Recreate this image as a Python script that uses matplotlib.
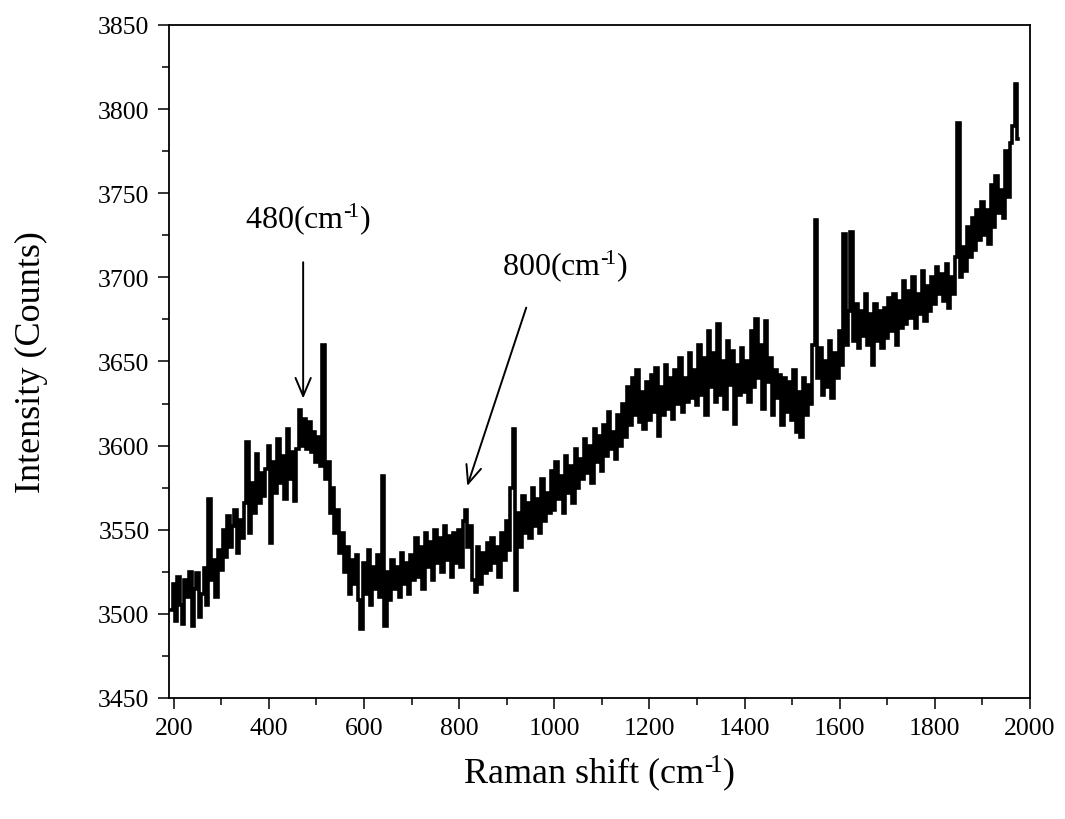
import numpy as np
import matplotlib
matplotlib.use("Agg")
import matplotlib.pyplot as plt
from matplotlib.ticker import MultipleLocator

plt.rcParams['font.family'] = ['Liberation Serif', 'DejaVu Serif']
plt.rcParams['mathtext.fontset'] = 'custom'
plt.rcParams['mathtext.rm'] = 'Liberation Serif'
plt.rcParams['mathtext.it'] = 'Liberation Serif:italic'

# Intensity values (Counts), every 5 cm^-1 from 195 cm^-1
intensity = [
    # 195 - 290
    3502, 3518, 3496, 3522, 3505, 3494, 3520, 3510, 3525, 3493, 3515, 3524, 3498, 3512, 3527, 3505, 3568, 3520, 3532, 3510,
    # 295 - 390
    3538, 3526, 3550, 3534, 3558, 3540, 3552, 3562, 3536, 3556, 3545, 3566, 3602, 3548, 3578, 3560, 3595, 3566, 3584, 3570,
    # 395 - 490
    3586, 3600, 3542, 3590, 3572, 3604, 3578, 3594, 3568, 3610, 3580, 3596, 3567, 3598, 3621, 3600, 3616, 3598, 3614, 3596,
    # 495 - 590
    3608, 3590, 3605, 3588, 3660, 3580, 3590, 3560, 3575, 3548, 3562, 3536, 3548, 3525, 3540, 3512, 3532, 3518, 3535, 3508,
    # 595 - 690
    3491, 3530, 3512, 3538, 3505, 3528, 3515, 3535, 3510, 3582, 3493, 3525, 3508, 3532, 3515, 3528, 3510, 3536, 3518, 3530,
    # 695 - 790
    3512, 3535, 3520, 3545, 3522, 3540, 3515, 3548, 3528, 3543, 3520, 3550, 3530, 3545, 3525, 3552, 3532, 3546, 3522, 3548,
    # 795 - 890
    3530, 3550, 3528, 3555, 3562, 3540, 3552, 3520, 3513, 3540, 3518, 3536, 3524, 3542, 3526, 3545, 3530, 3540, 3522, 3548,
    # 895 - 990
    3532, 3555, 3538, 3575, 3610, 3514, 3560, 3540, 3570, 3548, 3566, 3545, 3575, 3552, 3568, 3548, 3580, 3555, 3572, 3560,
    # 995 - 1090
    3585, 3562, 3590, 3568, 3582, 3560, 3594, 3572, 3588, 3566, 3598, 3575, 3592, 3580, 3604, 3584, 3600, 3578, 3610, 3590,
    # 1095 - 1190
    3606, 3585, 3612, 3594, 3620, 3598, 3608, 3592, 3618, 3600, 3625, 3605, 3635, 3612, 3640, 3618, 3645, 3614, 3632, 3610,
    # 1195 - 1290
    3638, 3615, 3642, 3620, 3646, 3606, 3635, 3618, 3648, 3622, 3640, 3616, 3645, 3625, 3652, 3620, 3640, 3626, 3655, 3628,
    # 1295 - 1390
    3645, 3624, 3660, 3630, 3652, 3618, 3668, 3635, 3655, 3626, 3672, 3630, 3650, 3622, 3662, 3636, 3656, 3613, 3648, 3630,
    # 1395 - 1490
    3658, 3632, 3650, 3626, 3668, 3635, 3675, 3640, 3660, 3622, 3674, 3638, 3652, 3618, 3645, 3628, 3642, 3612, 3640, 3620,
    # 1495 - 1590
    3638, 3615, 3645, 3608, 3632, 3605, 3640, 3618, 3636, 3625, 3660, 3734, 3640, 3658, 3630, 3650, 3635, 3662, 3628, 3655,
    # 1595 - 1690
    3640, 3668, 3648, 3726, 3660, 3680, 3727, 3662, 3684, 3658, 3680, 3665, 3690, 3660, 3678, 3648, 3684, 3662, 3680, 3658,
    # 1695 - 1790
    3682, 3664, 3688, 3668, 3690, 3660, 3686, 3670, 3698, 3672, 3692, 3676, 3700, 3670, 3690, 3678, 3704, 3674, 3695, 3680,
    # 1795 - 1890
    3700, 3684, 3706, 3690, 3702, 3686, 3708, 3682, 3700, 3690, 3712, 3792, 3700, 3718, 3704, 3730, 3712, 3735, 3716, 3740,
    # 1895 - 1975
    3722, 3745, 3725, 3740, 3720, 3755, 3730, 3760, 3738, 3752, 3735, 3775, 3748, 3780, 3790, 3815, 3782,
]
raman_shift = np.arange(195, 195 + 5 * len(intensity), 5)

x_ticks = [200, 400, 600, 800, 1000, 1200, 1400, 1600, 1800, 2000]
y_ticks = [3450, 3500, 3550, 3600, 3650, 3700, 3750, 3800, 3850]

peak_labels = ["480(cm$^{\u2010\\!1}$)", "800(cm$^{\u2010\\!1}$)"]

fig = plt.figure(figsize=(10.65, 8.2), dpi=100)
ax = fig.add_axes([0.1587, 0.1476, 0.8084, 0.8207])

ax.plot(raman_shift, intensity, color='black', lw=2.6, drawstyle='steps-mid',
        solid_joinstyle='miter')

ax.set_xlim(190, 2000)
ax.set_ylim(3450, 3850)
ax.set_xticks(x_ticks)
ax.set_yticks(y_ticks)
ax.xaxis.set_minor_locator(MultipleLocator(100))
ax.yaxis.set_minor_locator(MultipleLocator(25))
ax.tick_params(which='both', direction='out', top=False, right=False, width=1.1,
               labelsize=18.5, color='black')
ax.tick_params(which='major', length=8, pad=6)
ax.tick_params(which='minor', length=5)
for s in ax.spines.values():
    s.set_linewidth(1.3)

ax.set_xlabel("Raman shift (cm$^{\u2010\\!1}$)", fontsize=26)
ax.set_ylabel("Intensity (Counts)", fontsize=26)
ax.xaxis.set_label_coords(0.5, -0.081)
ax.yaxis.set_label_coords(-0.14, 0.5)

arrow_kw = dict(arrowstyle='->,head_length=1.3,head_width=0.55', lw=1.4, color='black',
                shrinkA=0, shrinkB=0)
ax.annotate('', xy=(472, 3628), xytext=(472, 3709), arrowprops=arrow_kw)
ax.annotate('', xy=(817, 3576), xytext=(941, 3682), arrowprops=arrow_kw)

ax.text(482, 3735, peak_labels[0], fontsize=23, ha='center', va='center')
ax.text(1023, 3707, peak_labels[1], fontsize=23, ha='center', va='center')

fig.savefig('out.png', dpi=100, facecolor='white')
